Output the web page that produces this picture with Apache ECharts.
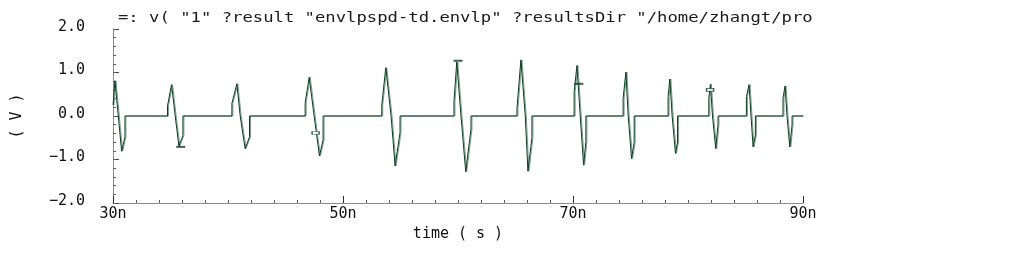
<!DOCTYPE html>
<html><head><meta charset="utf-8">
<script src="https://cdn.jsdelivr.net/npm/echarts@6/dist/echarts.min.js"></script>
<style>html,body{margin:0;padding:0;background:#fff}#c{width:1013px;height:253px}</style>
</head><body><div id="c"></div>
<script>
// waveform samples: time (ns) and voltage (V)
const time = [
  30.00, 30.17, 30.46, 30.75, 31.04, 31.04,
  34.74, 34.74, 35.09, 35.41, 35.73, 36.08, 36.08,
  40.34, 40.34, 40.77, 41.06, 41.49, 41.87, 41.87,
  46.71, 46.71, 47.06, 47.49, 47.95, 48.27, 48.27,
  53.37, 53.37, 53.72, 54.18, 54.53, 54.96, 54.96,
  59.65, 59.65, 59.89, 60.26, 60.67, 61.13, 61.13,
  65.13, 65.13, 65.47, 65.85, 66.08, 66.43, 66.43,
  70.10, 70.10, 70.34, 70.63, 70.92, 71.12, 71.12,
  74.36, 74.36, 74.60, 74.80, 75.09, 75.32, 75.32,
  78.27, 78.27, 78.42, 78.62, 78.91, 79.09, 79.09,
  81.81, 81.81, 81.95, 82.13, 82.41, 82.61, 82.61,
  85.08, 85.08, 85.31, 85.48, 85.66, 85.86, 85.86,
  88.26, 88.26, 88.44, 88.61, 88.85, 89.05, 89.05,
  90.00
];
const volt = [
  0.25, 0.81, 0.00, -0.81, -0.48, 0.00,
  0.00, 0.23, 0.72, 0.00, -0.69, -0.45, 0.00,
  0.00, 0.29, 0.74, 0.00, -0.75, -0.48, 0.00,
  0.00, 0.30, 0.89, 0.00, -0.92, -0.55, 0.00,
  0.00, 0.25, 1.11, 0.00, -1.15, -0.38, 0.00,
  0.00, 0.33, 1.24, 0.00, -1.28, -0.30, 0.00,
  0.00, 0.18, 1.29, 0.00, -1.27, -0.50, 0.00,
  0.00, 0.56, 1.16, 0.00, -1.13, -0.59, 0.00,
  0.00, 0.41, 1.01, 0.00, -0.98, -0.60, 0.00,
  0.00, 0.45, 0.85, 0.00, -0.86, -0.60, 0.00,
  0.00, 0.41, 0.73, 0.00, -0.75, -0.20, 0.00,
  0.00, 0.45, 0.72, 0.00, -0.71, -0.44, 0.00,
  0.00, 0.41, 0.69, 0.00, -0.71, -0.21, 0.00,
  0.00
];
// marker symbols placed on the trace
const barMarkerTime = [35.89, 60.00, 70.51];
const barMarkerVolt = [-0.71, 1.27, 0.74];
const boxMarkerTime = [47.62, 81.92];
const boxMarkerVolt = [-0.39, 0.60];

const xTicks = [30, 50, 70, 90];
const xTickLabels = ['30n', '50n', '70n', '90n'];
const yTicks = [-2, -1, 0, 1, 2];
const yTickLabels = ['\u22122.0', '\u22121.0', '0.0', '1.0', '2.0'];
const titleText = '=: v( "1" ?result "envlpspd-td.envlp" ?resultsDir "/home/zhangt/pro';

const FONT = '"DejaVu Sans Mono", monospace';
const chart = echarts.init(document.getElementById('c'));
const axisGrey = '#8c8c8c';
const tickCol = '#606060';

chart.setOption({
  animation: false,
  backgroundColor: '#ffffff',
  grid: { left: 113, right: 210, top: 29, bottom: 50, containLabel: false },
  graphic: [{
    type: 'text', left: 118, top: 11, scaleX: 1.23, originX: 0,
    style: { text: titleText, font: '14px ' + FONT, fill: '#1a1a1a' }
  }],
  xAxis: [{
    type: 'value', min: 30, max: 90, interval: 2, position: 'bottom',
    axisLine: { onZero: false, lineStyle: { color: axisGrey, width: 1 } },
    axisTick: { inside: true, length: 3, lineStyle: { color: tickCol } },
    axisLabel: { show: false },
    splitLine: { show: false }
  }, {
    type: 'value', min: 30, max: 90, interval: 2, position: 'bottom',
    axisLine: { show: false, onZero: false },
    axisTick: { inside: true, length: 7, customValues: xTicks, lineStyle: { color: '#303030' } },
    axisLabel: {
      customValues: xTicks, margin: 4, color: '#111',
      fontFamily: FONT, fontSize: 15,
      formatter: v => xTickLabels[xTicks.indexOf(v)]
    },
    splitLine: { show: false },
    name: 'time ( s )', nameLocation: 'middle', nameGap: 24,
    nameTextStyle: { fontFamily: FONT, fontSize: 15, color: '#111' }
  }],
  yAxis: [{
    type: 'value', min: -2, max: 2, interval: 1, position: 'left',
    axisLine: { show: true, onZero: false, lineStyle: { color: axisGrey, width: 1 } },
    axisTick: { show: true, inside: true, length: 6, lineStyle: { color: '#404040' } },
    axisLabel: {
      margin: 28, color: '#111', fontFamily: FONT, fontSize: 15,
      verticalAlign: 'bottom', lineHeight: 4,
      formatter: v => yTickLabels[yTicks.indexOf(v)]
    },
    splitLine: { show: false },
    name: '( V )', nameLocation: 'middle', nameGap: 88, nameRotate: 90,
    nameTextStyle: { fontFamily: FONT, fontSize: 15, color: '#111' }
  }, {
    type: 'value', min: -2, max: 2, interval: 0.2, position: 'left',
    axisLine: { show: false, onZero: false },
    axisTick: { show: true, inside: true, length: 3, lineStyle: { color: tickCol } },
    axisLabel: { show: false },
    splitLine: { show: false }
  }],
  series: [{
    type: 'line', xAxisIndex: 0, yAxisIndex: 0,
    data: time.map((t, i) => [t, volt[i]]),
    showSymbol: false, symbol: 'none',
    lineStyle: { color: '#083c1f', width: 1, shadowColor: '#7f9e8c', shadowBlur: 0, shadowOffsetX: 1 },
    z: 3
  }, {
    type: 'scatter', xAxisIndex: 0, yAxisIndex: 0,
    data: barMarkerTime.map((t, i) => [t, barMarkerVolt[i]]),
    symbol: 'rect', symbolSize: [9, 2],
    itemStyle: { color: '#083c1f' }, z: 4
  }, {
    type: 'scatter', xAxisIndex: 0, yAxisIndex: 0,
    data: boxMarkerTime.map((t, i) => [t, boxMarkerVolt[i]]),
    symbol: 'rect', symbolSize: [7, 3],
    itemStyle: { color: '#ffffff', borderColor: '#083c1f', borderWidth: 1 }, z: 4
  }]
});
</script></body></html>
